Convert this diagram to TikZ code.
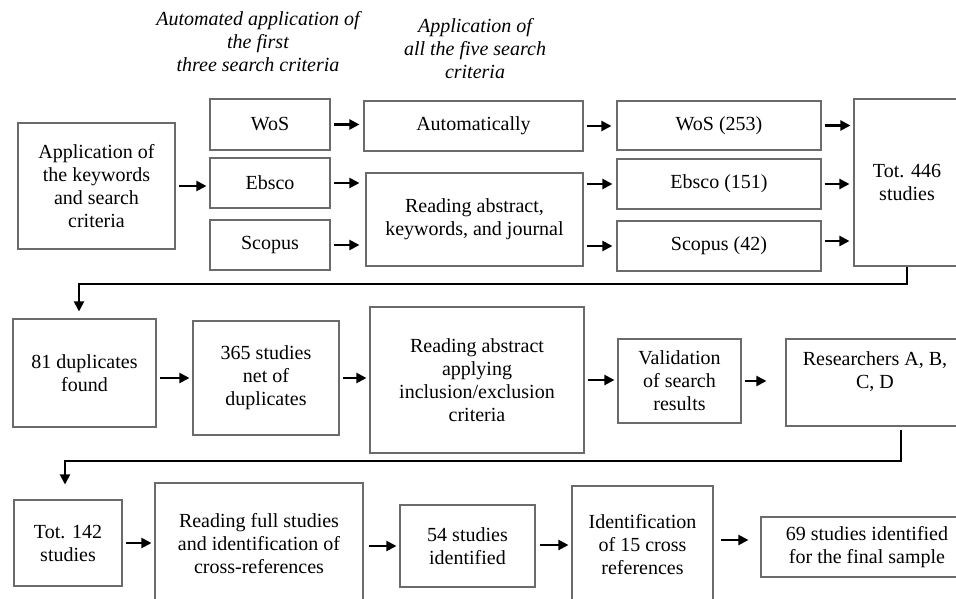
\documentclass[tikz,border=0pt]{standalone}
\usepackage{fontspec}
\setmainfont{Liberation Serif}
\usetikzlibrary{arrows.meta,calc}
\begin{document}
\begin{tikzpicture}[x=1pt,y=-1pt,
  txt/.style={font=\fontsize{20pt}{23pt}\selectfont, align=center, inner sep=0pt},
  box/.style={draw=black!58, line width=1.1pt, txt},
  arr/.style={draw=black, line width=2.1pt, -{Triangle[length=10pt,width=10pt]}, shorten <=3pt, shorten >=3pt},
  conn/.style={draw=black, line width=2pt, -{Triangle[length=10pt,width=10pt]}}]
\useasboundingbox (0,0) rectangle (956,599);
\clip (0,0) rectangle (956,599);
\fill[white] (0,0) rectangle (956,599);
% headers
\node[txt, font=\fontsize{20pt}{23pt}\selectfont\itshape] (h1) at (258,42) {Automated application of\\the first\\three search criteria};
\node[txt, font=\fontsize{20pt}{23pt}\selectfont\itshape] (h2) at (475,49) {Application of\\all the five search\\criteria};
% row 1
\node[box, minimum width=157pt, minimum height=126pt] (app) at (96.5,186) {Application of\\the keywords\\and search\\criteria};
\node[box, minimum width=120pt, minimum height=51pt] (wos) at (270,124.5) {WoS};
\node[box, minimum width=120pt, minimum height=50pt] (ebsco) at (270,183) {Ebsco};
\node[box, minimum width=120pt, minimum height=50pt] (scopus) at (270,245) {Scopus};
\node[box, minimum width=219pt, minimum height=50pt] (auto) at (473.5,126) {Automatically};
\node[box, minimum width=217pt, minimum height=93pt] (read1) at (474.5,219.5) {Reading abstract,\\keywords, and journal};
\node[box, minimum width=204pt, minimum height=49pt] (w253) at (719,125.5) {WoS (253)};
\node[box, minimum width=204pt, minimum height=50pt] (e151) at (719,184) {Ebsco (151)};
\node[box, minimum width=204pt, minimum height=50pt] (s42) at (719,246) {Scopus (42)};
\node[box, minimum width=106pt, minimum height=167pt] (tot) at (907,182.5) {Tot. 446\\studies};
% row 2
\node[box, minimum width=143pt, minimum height=108pt] (dup) at (84.5,373) {81 duplicates\\found};
\node[box, minimum width=146pt, minimum height=114pt] (net) at (266,378) {365 studies\\net of\\duplicates};
\node[box, minimum width=214pt, minimum height=146pt] (read2) at (477,380) {Reading abstract\\applying\\inclusion/exclusion\\criteria};
\node[box, minimum width=123pt, minimum height=84pt] (valid) at (679.5,381) {Validation\\of search\\results};
\node[box, minimum width=178pt, minimum height=87pt] (res) at (875,382.5) {};
\node[txt] (restxt) at (875,371.5) {Researchers A, B,\\C, D};
% row 3
\node[box, minimum width=108pt, minimum height=86pt] (t142) at (68,543) {Tot. 142\\studies};
\node[box, minimum width=208pt, minimum height=121pt] (read3) at (259,543.5) {Reading full studies\\and identification of\\cross-references};
\node[box, minimum width=135pt, minimum height=82pt] (s54) at (467.5,546) {54 studies\\identified};
\node[box, minimum width=141pt, minimum height=118pt] (ident) at (642.5,545) {Identification\\of 15 cross\\references};
\node[box, minimum width=212pt, minimum height=60pt] (final) at (867,547) {69 studies identified\\for the final sample};
% row 1 arrows
\draw[arr] (app.east) -- (app.east -| ebsco.west);
\draw[arr, shorten >=4pt] (wos.east) -- (wos.east -| auto.west);
\draw[arr, shorten >=6pt] (ebsco.east) -- (ebsco.east -| read1.west);
\draw[arr, shorten >=6pt] (scopus.east) -- (scopus.east -| read1.west);
\draw[arr, shorten >=5pt] (auto.east) -- (auto.east -| w253.west);
\draw[arr, shorten >=4pt] (read1.east |- e151.west) -- (e151.west);
\draw[arr, shorten >=4pt] (read1.east |- s42.west) -- (s42.west);
\draw[arr] (w253.east) -- (w253.east -| tot.west);
\draw[arr, shorten >=4pt] (e151.east) -- (e151.east -| tot.west);
\draw[arr, shorten >=4pt] ([yshift=5pt]s42.east) -- ([yshift=5pt]s42.east -| tot.west);
% connector 1
\draw[conn] (tot.south) -- ++(0,17) -| ([xshift=-5.5pt,yshift=7pt]dup.north);
% row 2 arrows
\draw[arr] (dup.east |- net.west) -- (net.west);
\draw[arr] (net.east) -- (net.east -| read2.west);
\draw[arr] (read2.east) -- (read2.east -| valid.west);
\draw[arr, shorten >=19pt] (valid.east) -- (valid.east -| res.west);
% connector 2
\draw[conn] ([xshift=26pt,yshift=-3pt]res.south) -- ++(0,31) -| ([xshift=-3pt,yshift=15pt]t142.north);
% row 3 arrows
\draw[arr] (t142.east) -- (t142.east -| read3.west);
\draw[arr, shorten <=5pt] (read3.east |- s54.west) -- (s54.west);
\draw[arr, shorten <=4pt] (s54.east |- ident.west) -- (ident.west);
\draw[arr, shorten <=7pt, shorten >=12pt] ([yshift=5pt]ident.east) -- ([yshift=5pt]ident.east -| final.west);
\end{tikzpicture}
\end{document}
